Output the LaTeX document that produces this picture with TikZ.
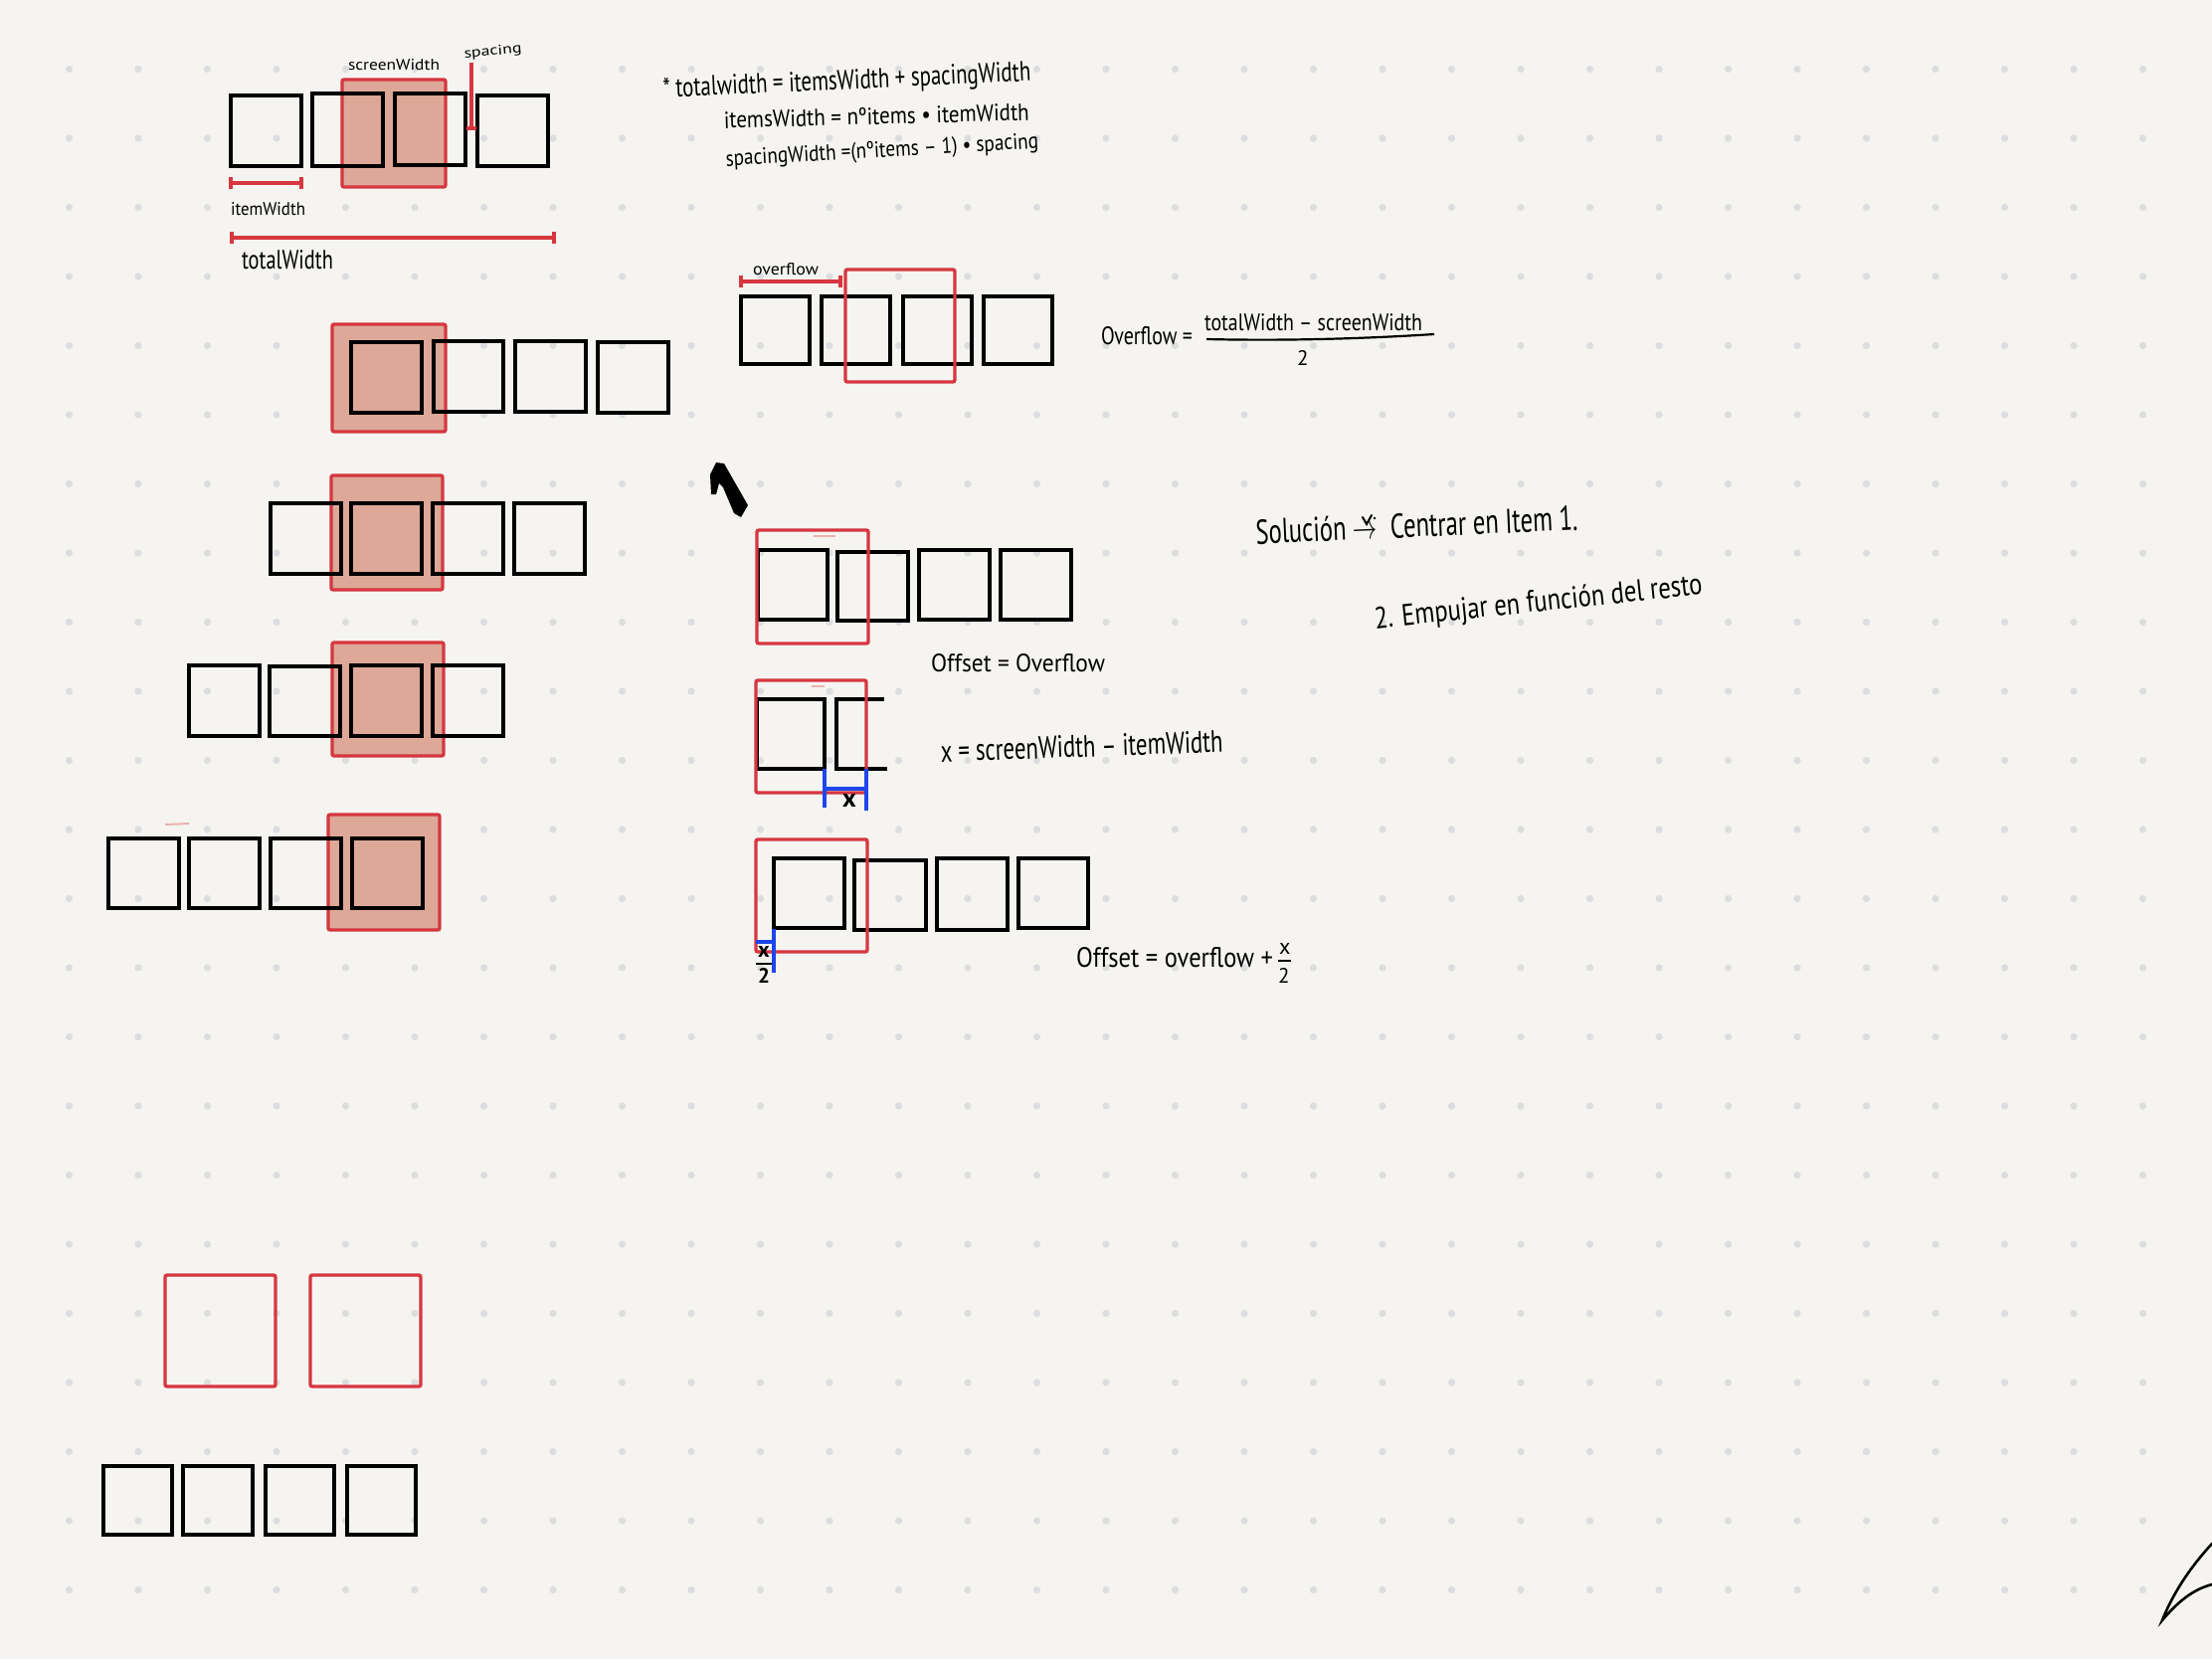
\documentclass[tikz,border=0pt]{standalone}
\usepackage{fontspec}
\setmainfont{PT Sans}
\definecolor{bg}{RGB}{245,244,240}
\definecolor{dotc}{RGB}{221,221,223}
\definecolor{redl}{RGB}{214,55,64}
\definecolor{redf}{RGB}{221,168,152}
\definecolor{bluel}{RGB}{30,70,235}
\newcommand{\hw}[3]{\resizebox{#1pt}{#2pt}{#3}}
\newcommand{\hh}[2]{\resizebox{!}{#1pt}{#2}}
\begin{document}
\begin{tikzpicture}[x=1pt,y=-1pt,
  bx/.style={draw=black,line width=4.2pt},
  rf/.style={draw=redl,fill=redf,line width=3.4pt,rounded corners=2pt},
  ro/.style={draw=redl,line width=3.4pt,rounded corners=2pt},
  rl/.style={draw=redl,line width=3.2pt},
  faint/.style={draw=redl!35!bg,line width=2pt},
  bl/.style={draw=bluel,line width=3.4pt},
  hand/.style={inner sep=0pt,outer sep=0pt,text=black,anchor=base west}]
\fill[bg] (0,0) rectangle (2224,1668);
\useasboundingbox (0,0) rectangle (2224,1668);
\foreach \i in {1,...,31} \foreach \j in {1,...,23} \fill[dotc] (69.5*\i,69.5*\j) circle (3.6pt);

% ---------- top definition row ----------
\draw[rf] (344,80) rectangle (448,188);
\draw[bx] (232,96) rectangle (303,167);
\draw[bx] (314,94) rectangle (385,167);
\draw[bx] (397,94) rectangle (468,166);
\draw[bx] (480,96) rectangle (551,167);
\draw[rl] (474,63) -- (474,129);
\draw[rl] (469,129) -- (479,129);
\draw[rl] (232,184) -- (303,184);
\draw[rl] (232,178) -- (232,190);
\draw[rl] (303,178) -- (303,190);
\draw[rl] (233,239) -- (557,239);
\draw[rl] (233,233) -- (233,245);
\draw[rl] (557,233) -- (557,245);
\node[hand] (tscreen) at (350,70) {\hw{92}{11}{screenWidth}};
\node[hand,rotate=5] (tspacing) at (467,58) {\hw{58}{10}{spacing}};
\node[hand] (titem) at (232,216) {\hw{75}{13}{itemWidth}};
\node[hand] (ttotal) at (243,270) {\hw{92}{19}{totalWidth}};

% ---------- formulas ----------
\node[hand,rotate=2.6] (f1) at (667,98) {\hw{370}{20}{* totalwidth = itemsWidth + spacingWidth}};
\node[hand,rotate=1.5] (f2) at (728,129) {\hw{307}{17}{itemsWidth = nºitems • itemWidth}};
\node[hand,rotate=3.3] (f3) at (730,167) {\hw{315}{16}{spacingWidth =(nºitems – 1) • spacing}};

% ---------- overflow row ----------
\draw[bx] (745,298) rectangle (814,366);
\draw[bx] (826,298) rectangle (895,366);
\draw[bx] (908,298) rectangle (977,366);
\draw[bx] (989,298) rectangle (1058,366);
\draw[ro] (850,271) rectangle (960,384);
\draw[rl] (745,283) -- (845,283);
\draw[rl] (745,277) -- (745,289);
\draw[rl] (845,277) -- (845,289);
\node[hand] (tover) at (757,276) {\hw{66}{12}{overflow}};
\node[hand] (fo1) at (1107,346) {\hw{92}{18}{Overflow =}};
\node[hand] (fo2) at (1211,332) {\hw{219}{17}{totalWidth – screenWidth}};
\coordinate (fl1) at (1213,341);
\coordinate (fl2) at (1442,336);
\draw[line width=2.2pt] (fl1) .. controls (1300,343) and (1380,340) .. (fl2);
\node[hand] (fo3) at (1304,367) {\hh{15}{2}};

% ---------- big mark ----------
\fill[black] (714,477) -- (720,465) -- (728,466) -- (752,508) -- (745,520) -- (738,516) -- (727,490) -- (723,486) -- (720,497) -- (715,497) -- cycle;

% ---------- left stepping rows ----------
\draw[rf] (334,326) rectangle (448,434);
\draw[bx] (353,344) rectangle (424,415);
\draw[bx] (436,343) rectangle (506,414);
\draw[bx] (518,343) rectangle (589,414);
\draw[bx] (601,344) rectangle (672,415);

\draw[rf] (333,478) rectangle (445,593);
\draw[bx] (272,506) rectangle (343,577);
\draw[bx] (353,506) rectangle (424,577);
\draw[bx] (435,506) rectangle (506,577);
\draw[bx] (517,506) rectangle (588,577);

\draw[rf] (334,646) rectangle (446,760);
\draw[bx] (190,669) rectangle (261,740);
\draw[bx] (271,670) rectangle (342,740);
\draw[bx] (353,669) rectangle (424,740);
\draw[bx] (435,669) rectangle (506,740);

\draw[faint] (166,829) -- (190,828);
\draw[rf] (330,819) rectangle (442,935);
\draw[bx] (109,843) rectangle (180,913);
\draw[bx] (190,843) rectangle (261,913);
\draw[bx] (272,843) rectangle (343,913);
\draw[bx] (354,843) rectangle (425,913);

% ---------- centrar row ----------
\draw[faint] (818,539) -- (840,539);
\draw[bx] (762,553) rectangle (832,623);
\draw[bx] (842,555) rectangle (913,624);
\draw[bx] (924,553) rectangle (995,623);
\draw[bx] (1006,553) rectangle (1077,623);
\draw[ro] (761,533) rectangle (873,647);
\node[hand] (toff1) at (936,675) {\hw{175}{18}{Offset = Overflow}};

% ---------- x diagram ----------
\draw[faint] (816,690) -- (829,690);
\draw[bx] (761,703) rectangle (829,773);
\draw[bx] (889,703) -- (841,703) -- (841,773) -- (892,773);
\draw[ro] (760,684) rectangle (871,797);
\draw[bl] (829,773) -- (829,812);
\draw[bl] (871,773) -- (871,815);
\draw[bl] (829,793) -- (871,793);
\node[hand] (tx) at (847,811) {\hh{13}{\bfseries x}};
\node[hand,rotate=2] (fx) at (946,766) {\hw{284}{22}{x = screenWidth – itemWidth}};

% ---------- offset row ----------
\draw[bx] (778,863) rectangle (849,933);
\draw[bx] (859,865) rectangle (931,935);
\draw[bx] (942,863) rectangle (1013,935);
\draw[bx] (1024,863) rectangle (1094,933);
\draw[ro] (760,844) rectangle (872,957);
\draw[bl] (778,934) -- (778,978);
\draw[bl] (760,947) -- (778,947);
\node[hand] (tx2a) at (762,962) {\hh{11}{\bfseries x}};
\draw[line width=2.8pt] (760,969) -- (776,969);
\node[hand] (tx2b) at (762,988) {\hh{15}{\bfseries 2}};
\node[hand] (foff) at (1082,972) {\hw{198}{20}{Offset = overflow +}};
\node[hand] (foffx) at (1286,959) {\hh{11}{x}};
\draw[line width=2pt] (1285,966) -- (1298,966);
\node[hand] (foff2) at (1285,988) {\hh{15}{2}};

% ---------- solution notes ----------
\node[hand,rotate=2.5] (sol1) at (1263,547) {\hw{324}{25}{Solución $\rightarrow$\ \ Centrar en Item 1.}};
\draw[line width=2pt,line cap=round] (1370,520) -- (1374,527) -- (1379,518);
\fill (1382,521) circle (1.4pt);
\node[hand,rotate=6] (sol2) at (1383,632) {\hw{331}{22}{2. Empujar en función del resto}};

% ---------- bottom sketch ----------
\draw[ro] (166,1282) rectangle (277,1394);
\draw[ro] (312,1282) rectangle (423,1394);
\draw[bx] (104,1474) rectangle (173,1543);
\draw[bx] (184,1474) rectangle (254,1543);
\draw[bx] (267,1474) rectangle (336,1543);
\draw[bx] (349,1474) rectangle (418,1543);

% ---------- corner stroke ----------
\coordinate (c1) at (2224,1552);
\coordinate (c2) at (2174,1629);
\coordinate (c3) at (2224,1593);
\draw[line width=2.6pt,line cap=round] (c1) .. controls (2200,1578) and (2184,1604) .. (c2) .. controls (2190,1610) and (2205,1598) .. (c3);
\end{tikzpicture}
\end{document}
